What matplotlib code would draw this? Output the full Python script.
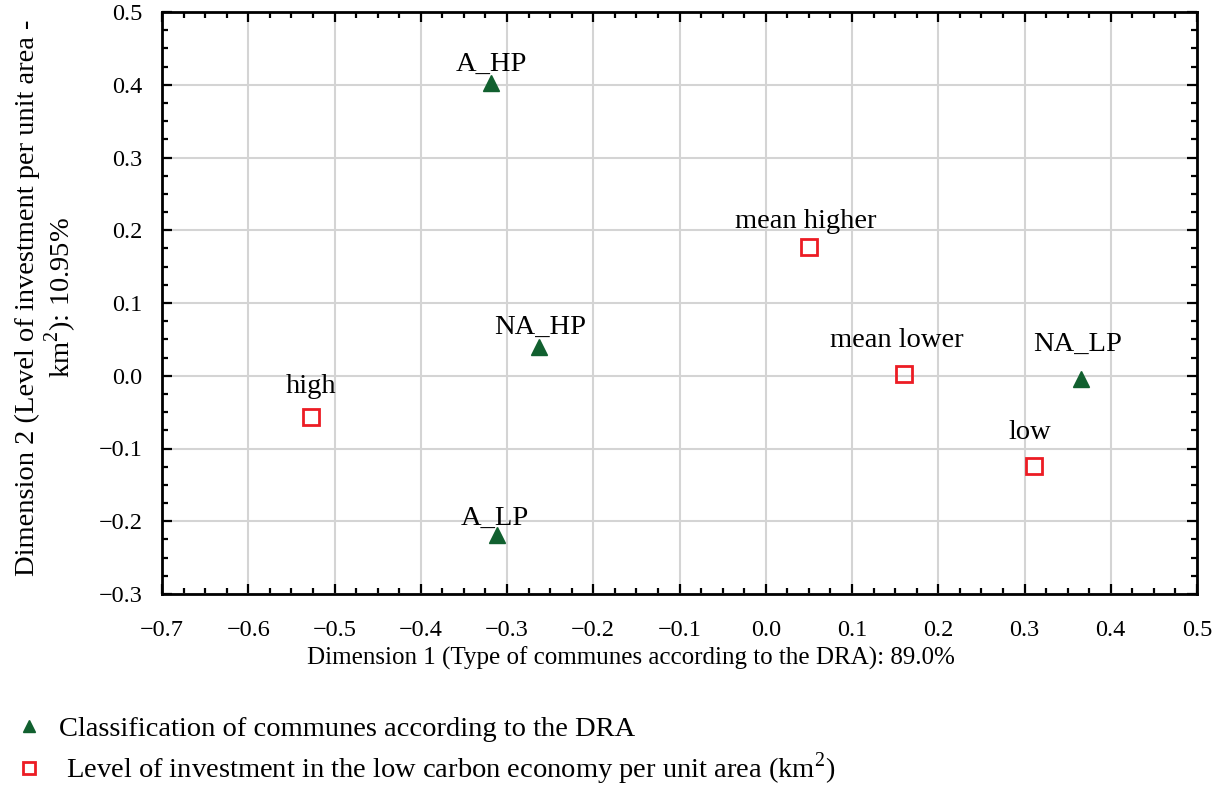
import matplotlib
matplotlib.use("Agg")
import matplotlib.pyplot as plt
from matplotlib.ticker import MultipleLocator, FuncFormatter

# Correspondence analysis coordinates
commune_names = ["A_HP", "NA_HP", "A_LP", "NA_LP"]
commune_dim1 = [-0.318, -0.263, -0.312, 0.365]
commune_dim2 = [0.403, 0.040, -0.219, -0.004]

invest_names = ["high", "mean higher", "mean lower", "low"]
invest_dim1 = [-0.527, 0.050, 0.160, 0.311]
invest_dim2 = [-0.057, 0.177, 0.003, -0.124]

x_ticks = [-0.7, -0.6, -0.5, -0.4, -0.3, -0.2, -0.1, 0.0, 0.1, 0.2, 0.3, 0.4, 0.5]
y_ticks = [-0.3, -0.2, -0.1, 0.0, 0.1, 0.2, 0.3, 0.4, 0.5]

# label offsets (points) for the point annotations
label_offsets = {
    "A_HP": (0, 13), "NA_HP": (1, 14), "A_LP": (-1, 12), "NA_LP": (-2, 25),
    "high": (0, 22), "mean higher": (-2, 18), "mean lower": (-5, 24), "low": (-3, 24),
}

plt.rcParams["font.family"] = ["Liberation Serif", "DejaVu Serif"]
plt.rcParams["mathtext.fontset"] = "custom"
plt.rcParams["mathtext.rm"] = "Liberation Serif"

green = "#11602f"
red = "#ec1c24"

fig = plt.figure(figsize=(12.12, 7.87), dpi=100)
ax = fig.add_axes([162 / 1212, 1 - 594 / 787, (1197 - 162) / 1212, (594 - 12) / 787])

ax.set_xlim(x_ticks[0], x_ticks[-1])
ax.set_ylim(y_ticks[0], y_ticks[-1])
ax.set_xticks(x_ticks)
ax.set_yticks(y_ticks)
ax.xaxis.set_minor_locator(MultipleLocator(0.025))
ax.yaxis.set_minor_locator(MultipleLocator(0.025))
fmt = FuncFormatter(lambda v, p: f"{v:.1f}".replace("-", "\u2212"))
ax.xaxis.set_major_formatter(fmt)
ax.yaxis.set_major_formatter(fmt)
ax.tick_params(which="both", direction="in", top=True, right=True,
               width=1.6, colors="black", labelsize=17.5)
ax.tick_params(which="major", length=7)
ax.tick_params(which="minor", length=4)
ax.tick_params(axis="x", pad=19)
ax.tick_params(axis="y", pad=14)
for s in ax.spines.values():
    s.set_linewidth(2.0)
ax.grid(True, which="major", color="#d4d4d4", linewidth=1.5)
ax.set_axisbelow(True)

tri = ax.plot(commune_dim1, commune_dim2, linestyle="none", marker="^",
              markersize=11, color=green, markeredgecolor=green,
              label="Classification of communes according to the DRA",
              zorder=3)[0]
sq = ax.plot(invest_dim1, invest_dim2, linestyle="none", marker="s",
             markersize=12, markerfacecolor="none", markeredgecolor=red,
             markeredgewidth=2.0,
             label=" Level of investment in the low carbon economy per unit area (km$^2$)",
             zorder=3)[0]

for names, xs, ys in [(commune_names, commune_dim1, commune_dim2),
                      (invest_names, invest_dim1, invest_dim2)]:
    for n, x, y in zip(names, xs, ys):
        dx, dy = label_offsets[n]
        ax.annotate(n, (x, y), xytext=(dx, dy), textcoords="offset points",
                    ha="center", va="center", fontsize=20.5, zorder=4)

fig.text(47 / 1212, 1 - 298 / 787,
         "Dimension 2 (Level of investment per unit area -\nkm$^2$): 10.95%",
         rotation=90, ha="center", va="center", fontsize=20.5,
         linespacing=1.12, multialignment="center")
fig.text(631 / 1212, 1 - 658 / 787,
         "Dimension 1 (Type of communes according to the DRA): 89.0%",
         ha="center", va="center", fontsize=18)

leg = fig.legend(handles=[tri, sq], loc="upper left",
                 bbox_to_anchor=(1 / 1212, 1 - 705 / 787), frameon=False,
                 fontsize=20.5, handlelength=1.2, handletextpad=0.45,
                 labelspacing=0.3, markerscale=0.75, borderaxespad=0)

fig.savefig("out.png", dpi=100, facecolor="white")
